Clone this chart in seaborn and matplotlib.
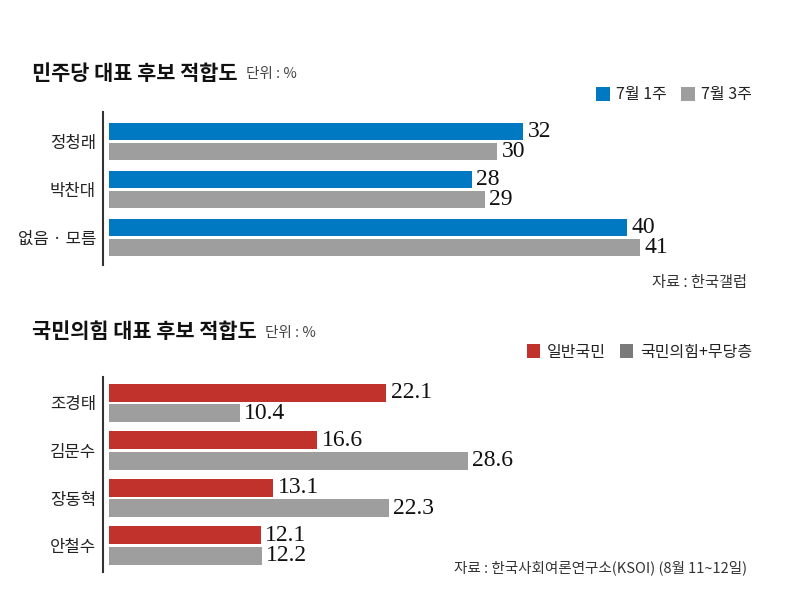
import matplotlib
matplotlib.use("Agg")
import matplotlib.pyplot as plt
import seaborn as sns
import pandas as pd
from matplotlib.patches import Patch

sns.set_style("white")
plt.rcParams['font.family'] = ['Noto Sans CJK KR', 'DejaVu Sans']

# ---- data ----
dem_candidates = ["정청래", "박찬대", "없음 · 모름"]
dem_series = ["7월 1주", "7월 3주"]
dem_week1 = [32, 28, 40]
dem_week3 = [30, 29, 41]

ppp_candidates = ["조경태", "김문수", "장동혁", "안철수"]
ppp_series = ["일반국민", "국민의힘+무당층"]
ppp_public = [22.1, 16.6, 13.1, 12.1]
ppp_party = [10.4, 28.6, 22.3, 12.2]

BLUE = "#0079C2"
GRAY = "#9E9E9E"
RED = "#C1322D"
DGRAY = "#7A7A7A"

W, H = 800, 607
fig = plt.figure(figsize=(8, 6.07), dpi=100)
fig.patch.set_facecolor("white")

def px_rect(x0, y_top, x1, y_bot):
    return [x0 / W, (H - y_bot) / H, (x1 - x0) / W, (y_bot - y_top) / H]

def make_df(cats, series, a, b):
    rows = []
    for c, v in zip(cats, a):
        rows.append({"cat": c, "series": series[0], "val": v})
    for c, v in zip(cats, b):
        rows.append({"cat": c, "series": series[1], "val": v})
    return pd.DataFrame(rows)

def draw(ax, df, cats, series, colors, scale, ylim, width, fmt):
    sns.barplot(data=df, y="cat", x="val", hue="series", order=cats,
                hue_order=series, palette=colors, orient="h", ax=ax,
                width=width, gap=0.12, dodge=True, legend=False,
                saturation=1, linewidth=0)
    left = -6 / scale
    ax.set_xlim(left, left + 677 / scale)
    ax.set_ylim(*ylim)
    for s in ["top", "right", "bottom"]:
        ax.spines[s].set_visible(False)
    ax.spines["left"].set_color("#333333")
    ax.spines["left"].set_linewidth(1.5)
    ax.set_xticks([])
    ax.set_xlabel("")
    ax.set_ylabel("")
    ax.tick_params(axis="y", length=0, pad=5, labelsize=12, labelcolor="#222222")
    for cont in ax.containers:
        ax.bar_label(cont, fmt=fmt, padding=3, fontsize=17,
                     family="Liberation Serif", color="#111111")

# ---- top chart ----
ax1 = fig.add_axes(px_rect(103, 112, 780, 265))
df1 = make_df(dem_candidates, dem_series, dem_week1, dem_week3)
draw(ax1, df1, dem_candidates, dem_series, [BLUE, GRAY], 12.95,
     (2 + 27.5 / 48, -29.5 / 48), 0.833, "%g")

# ---- bottom chart ----
ax2 = fig.add_axes(px_rect(103, 377, 780, 572))
df2 = make_df(ppp_candidates, ppp_series, ppp_public, ppp_party)
draw(ax2, df2, ppp_candidates, ppp_series, [RED, GRAY], 12.55,
     (3 + 26.5 / 47.5, -26 / 47.5), 0.863, "%.1f")

# ---- titles ----
fig.canvas.draw()
renderer = fig.canvas.get_renderer()

def title(text, y_center):
    t = fig.text(32 / W, (H - y_center) / H, text, fontsize=15, fontweight="bold",
                 va="center", ha="left", color="#111111")
    bb = t.get_window_extent(renderer=renderer)
    fig.text((bb.x1 + 8) / W, (H - y_center - 1) / H, "단위 : %", fontsize=10.5,
             va="center", ha="left", color="#444444")

title("민주당 대표 후보 적합도", 73)
title("국민의힘 대표 후보 적합도", 332)

# ---- legends ----
def legend(labels, colors, y_center):
    handles = [Patch(facecolor=c, edgecolor="none", label=l) for l, c in zip(labels, colors)]
    fig.legend(handles=handles, loc="center right",
               bbox_to_anchor=(752 / W, (H - y_center) / H), ncol=2, frameon=False,
               fontsize=11.5, handlelength=0.85, handleheight=0.95, handletextpad=0.4,
               columnspacing=0.9, borderpad=0, borderaxespad=0,
               labelcolor="#222222")

legend(dem_series, [BLUE, GRAY], 95)
legend(ppp_series, [RED, DGRAY], 352)

# ---- sources ----
fig.text(747 / W, (H - 283) / H, "자료 : 한국갤럽", fontsize=11, ha="right",
         va="center", color="#333333")
fig.text(747 / W, (H - 568) / H, "자료 : 한국사회여론연구소(KSOI) (8월 11~12일)",
         fontsize=10.5, ha="right", va="center", color="#333333")

fig.savefig("out.png", dpi=100, facecolor="white")
